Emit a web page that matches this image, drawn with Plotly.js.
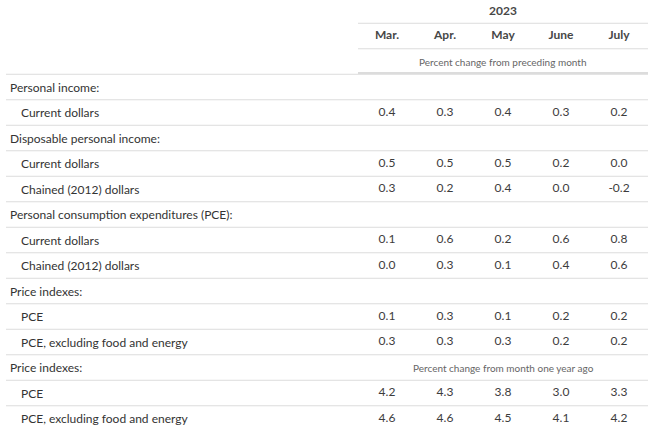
<!DOCTYPE html>
<html>
<head>
<meta charset="utf-8">
<script src="https://cdn.plot.ly/plotly-3.0.1.min.js"></script>
<style>html,body{margin:0;padding:0;background:#fff;}#chart{width:672px;height:442px;}</style>
</head>
<body>
<div id="chart"></div>
<script>
// ---- data ----
const yearLabel = "2023";
const months = ["Mar.", "Apr.", "May", "June", "July"];
const rowLabels = [
  "Personal income:",
  "Current dollars",
  "Disposable personal income:",
  "Current dollars",
  "Chained (2012) dollars",
  "Personal consumption expenditures (PCE):",
  "Current dollars",
  "Chained (2012) dollars",
  "Price indexes:",
  "PCE",
  "PCE, excluding food and energy",
  "Price indexes:",
  "PCE",
  "PCE, excluding food and energy"
];
const rowIndent = [0, 1, 0, 1, 1, 0, 1, 1, 0, 1, 1, 0, 1, 1];
const marValues  = [null, 0.4, null, 0.5, 0.3, null, 0.1, 0.0, null, 0.1, 0.3, null, 4.2, 4.6];
const aprValues  = [null, 0.3, null, 0.5, 0.2, null, 0.6, 0.3, null, 0.3, 0.3, null, 4.3, 4.6];
const mayValues  = [null, 0.4, null, 0.5, 0.4, null, 0.2, 0.1, null, 0.1, 0.3, null, 3.8, 4.5];
const juneValues = [null, 0.3, null, 0.2, 0.0, null, 0.6, 0.4, null, 0.2, 0.2, null, 3.0, 4.1];
const julyValues = [null, 0.2, null, 0.0, -0.2, null, 0.8, 0.6, null, 0.2, 0.2, null, 3.3, 4.2];
const subHeader1 = "Percent change from preceding month";
const subHeader2 = "Percent change from month one year ago";
const subHeader2Row = 11;

// ---- layout constants ----
const W = 672, H = 442;
const colW = 58, col0 = 387;          // px centre of first value column
const rowH = 25.5, row0 = 87;         // px centre of first data row
const xr = [-col0 / colW, (W - col0) / colW];
const yr = [(H - row0) / rowH, -row0 / rowH];
const xLeftEdge = (6 - col0) / colW;
const xLabel0 = (10 - col0) / colW;
const xLabel1 = (21 - col0) / colW;
const xRightEdge = months.length - 0.5;
const lineColor = "#dcdcdc";
const txt = "#333333";
const FONT = "Lato, 'Open Sans', sans-serif";

const allValues = [marValues, aprValues, mayValues, juneValues, julyValues];
const rows = rowLabels.map((_, i) => i);

const traces = allValues.map((vals, c) => ({
  type: "scatter", mode: "text",
  x: rows.map(() => c),
  y: rows,
  text: vals.map(v => v === null ? "" : v.toFixed(1)),
  textposition: "middle center",
  textfont: {family: FONT, size: 12, color: "#3c3c3c"},
  hoverinfo: "skip", showlegend: false
}));

// header months
traces.push({
  type: "scatter", mode: "text",
  x: months.map((_, c) => c), y: months.map(() => -2),
  text: months, textposition: "middle center",
  textfont: {family: FONT, size: 12, color: "#474747", weight: "bold"},
  hoverinfo: "skip", showlegend: false
});

const annotations = [];
rowLabels.forEach((lab, i) => {
  annotations.push({
    x: rowIndent[i] ? xLabel1 : xLabel0, y: i, xref: "x", yref: "y",
    text: lab, showarrow: false, xanchor: "left", yanchor: "middle",
    borderpad: 0, borderwidth: 0,
    font: {family: FONT, size: 12, color: txt}
  });
});
const midCol = (months.length - 1) / 2;
annotations.push({x: midCol, y: -3, xref: "x", yref: "y", text: yearLabel, showarrow: false,
  xanchor: "center", yanchor: "middle", font: {family: FONT, size: 12, color: "#474747", weight: "bold"}});
annotations.push({x: midCol, y: -1, xref: "x", yref: "y", text: subHeader1, showarrow: false,
  xanchor: "center", yanchor: "middle", font: {family: FONT, size: 10, color: "#666666"}});
annotations.push({x: midCol, y: subHeader2Row, xref: "x", yref: "y", text: subHeader2, showarrow: false,
  xanchor: "center", yanchor: "middle", font: {family: FONT, size: 10, color: "#666666"}});

const shapes = [];
[-2.5, -1.5].forEach(yy => shapes.push({type: "line", xref: "x", yref: "y",
  x0: -0.5, x1: xRightEdge, y0: yy, y1: yy, line: {color: lineColor, width: 1}}));
shapes.push({type: "line", xref: "x", yref: "y", x0: -0.5, x1: xRightEdge, y0: -0.55, y1: -0.55,
  line: {color: lineColor, width: 2}});
rows.forEach(r => shapes.push({type: "line", xref: "x", yref: "y",
  x0: xLeftEdge, x1: xRightEdge, y0: r - 0.5, y1: r - 0.5, line: {color: lineColor, width: 1}}));

const layout = {
  width: W, height: H,
  margin: {l: 0, r: 0, t: 0, b: 0, pad: 0},
  paper_bgcolor: "#ffffff", plot_bgcolor: "#ffffff",
  xaxis: {range: xr, visible: false, fixedrange: true},
  yaxis: {range: yr, visible: false, fixedrange: true},
  annotations: annotations, shapes: shapes,
  showlegend: false
};
Plotly.newPlot("chart", traces, layout, {displayModeBar: false, staticPlot: true});
</script>
</body>
</html>
